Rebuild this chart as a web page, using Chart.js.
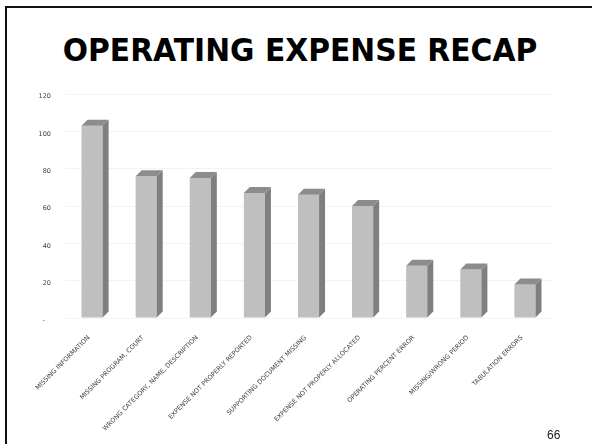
<!DOCTYPE html>
<html lang="en">
<head>
    <meta charset="UTF-8">
    <title>Operating Expense Recap</title>
    <script src="https://cdn.jsdelivr.net/npm/chart.js"></script>
    <style>
        html, body {
            margin: 0;
            padding: 0;
            background: #ffffff;
        }
        .slide {
            position: relative;
            width: 592px;
            height: 444px;
            overflow: hidden;
        }
        /* slide frame: only top and left edges show */
        .frame {
            position: absolute;
            left: 5px;
            top: 6px;
            right: -10px;
            bottom: -10px;
            border-top: 2px solid #111;
            border-left: 2px solid #111;
        }
        .title {
            position: absolute;
            left: 4px;
            width: 592px;
            top: 30px;
            text-align: center;
            font-family: "DejaVu Sans", sans-serif;
            font-weight: bold;
            font-size: 32px;
            line-height: 40px;
            color: #000;
            transform: scaleX(0.93);
            transform-origin: 296px 0;
        }
        .page-num {
            position: absolute;
            left: 547px;
            top: 428px;
            font-family: "Liberation Sans", sans-serif;
            font-size: 12px;
            color: #222;
        }
        canvas {
            position: absolute;
            left: 0;
            top: 0;
        }
    </style>
</head>
<body>
<div class="slide">
    <div class="frame"></div>
    <div class="title">OPERATING EXPENSE RECAP</div>
    <canvas id="recapChart" width="592" height="444"></canvas>
    <div class="page-num">66</div>
</div>

<script>
    const categories = [
        'MISSING INFORMATION',
        'MISSING PROGRAM, COURT',
        'WRONG CATEGORY, NAME, DESCRIPTION',
        'EXPENSE NOT PROPERLY REPORTED',
        'SUPPORTING DOCUMENT MISSING',
        'EXPENSE NOT PROPERLY ALLOCATED',
        'OPERATING PERCENT ERROR',
        'MISSING/WRONG PERIOD',
        'TABULATION ERRORS'
    ];
    const errorCounts = [103, 76, 75, 67, 66, 60, 28, 26, 18];
    const yTicks = [0, 20, 40, 60, 80, 100, 120];

    // draws the side and top faces so the columns look like 3D boxes
    const boxFaces = {
        id: 'boxFaces',
        afterDatasetsDraw(chart) {
            const ctx = chart.ctx;
            const dx = 6, dy = 6;
            chart.getDatasetMeta(0).data.forEach(bar => {
                const p = bar.getProps(['x', 'y', 'base', 'width'], true);
                const left = p.x - p.width / 2;
                const right = p.x + p.width / 2;
                ctx.save();
                // right side
                ctx.fillStyle = '#7f7f7f';
                ctx.beginPath();
                ctx.moveTo(right, p.y);
                ctx.lineTo(right + dx, p.y - dy);
                ctx.lineTo(right + dx, p.base - dy);
                ctx.lineTo(right, p.base);
                ctx.closePath();
                ctx.fill();
                // top
                ctx.fillStyle = '#8c8c8c';
                ctx.beginPath();
                ctx.moveTo(left, p.y);
                ctx.lineTo(left + dx, p.y - dy);
                ctx.lineTo(right + dx, p.y - dy);
                ctx.lineTo(right, p.y);
                ctx.closePath();
                ctx.fill();
                ctx.restore();
            });
        }
    };

    const ctx = document.getElementById('recapChart').getContext('2d');
    const recapChart = new Chart(ctx, {
        type: 'bar',
        data: {
            labels: categories,
            datasets: [{
                data: errorCounts,
                backgroundColor: '#bfbfbf',
                borderWidth: 0,
                categoryPercentage: 1.0,
                barPercentage: 0.39
            }]
        },
        options: {
            responsive: false,
            animation: false,
            layout: {
                padding: { top: 94, right: 40, bottom: 0, left: 0 }
            },
            plugins: {
                legend: { display: false },
                tooltip: { enabled: false }
            },
            scales: {
                x: {
                    grid: { display: false },
                    border: { display: false },
                    ticks: {
                        autoSkip: false,
                        minRotation: 45,
                        maxRotation: 45,
                        padding: 8,
                        labelOffset: -3,
                        color: '#404040',
                        font: { family: 'DejaVu Sans', size: 6.4 }
                    },
                    afterFit(scale) {
                        scale.height = 126;
                    }
                },
                y: {
                    min: 0,
                    max: 120,
                    afterBuildTicks(scale) {
                        scale.ticks = yTicks.map(v => ({ value: v }));
                    },
                    grid: {
                        color: '#f3f3f3',
                        drawTicks: false
                    },
                    border: { display: false },
                    ticks: {
                        padding: 14,
                        labelOffset: 2.5,
                        color: '#404040',
                        font: { family: 'DejaVu Sans', size: 6.5 },
                        callback: v => v === 0 ? '-   ' : v
                    },
                    afterFit(scale) {
                        scale.width = 65;
                    }
                }
            }
        },
        plugins: [boxFaces]
    });
</script>
</body>
</html>
